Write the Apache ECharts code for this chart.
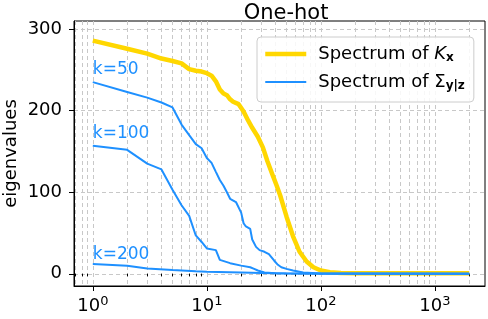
<!DOCTYPE html>
<html><head><meta charset="utf-8">
<script src="https://cdn.jsdelivr.net/npm/echarts@6/dist/echarts.min.js"></script>
<style>html,body{margin:0;padding:0;background:#fff}#c{width:488px;height:319px}</style>
</head><body><div id="c"></div>
<script>
const kxRanks = [1,2,3,4,5,6,7,8,9,10,11,12,13,14,15,16,17,19,21,23,25,28,31,34,38,41,44,50,57,65,75,86,100,120,150,200,500,1000,2000];
const kxValues = [286,276,270,264,261,258,251,249,248,246,243,236,226,221,219,214,211,208,199,188,179,168,155,138,120,108,96,70,46,27,15,8,4,2,1,0.5,0.5,0.5,0.5];
const k50Ranks = [1,2,3,4,5,6,7,8,9,10,11,12,13,14,15,16,18,20,21,22,24,25,27,29,32,35,39,42,45,50,57,70,100,2000];
const k50Values = [235,223,216,210,204,183,170,159,154,142,136,125,115,108,100,92,88,75,62,58,55,42,33,29,27,24,16,11,8,6,4,1.5,0.3,0];
const k100Ranks = [1,2,3,4,5,6,7,8,9,10,12,13,16,20,24,26,28,32,40,2000];
const k100Values = [157,152,135,128,103,84,71,47,39,31,29,17,13,10,8,6,4,1.5,0.5,0];
const k200Ranks = [1,2,3,5,8,10,20,30,50,100,2000];
const k200Values = [12,9.8,6.5,4.5,3,2.5,1.5,0.8,0.3,0.1,0];
const xMajorTicks = [1,10,100,1000];
const xMinorTicks = [0.7,0.8,0.9,2,3,4,5,6,7,8,9,20,30,40,50,60,70,80,90,200,300,400,500,600,700,800,900,2000];
const yTicks = [0,100,200,300];
const kLabels = ['k=50','k=100','k=200'];

const FONT = 'DejaVu Sans';
const BLUE = '#1E90FF';
const YELLOW = '#FFD700';
const NAME_K = 'Kx';
const NAME_S = 'Syz';

function pairs(r, v, label, dist) {
  return r.map((x, i) => {
    const item = {value: [x, v[i]]};
    if (i === 0 && label) {
      item.label = {show: true, formatter: label, position: 'top', align: 'left',
        color: BLUE, fontSize: 17, fontFamily: FONT, distance: dist};
    }
    return item;
  });
}
const gridDash = {show: true, lineStyle: {color: '#c8c8c8', type: [4, 3], width: 1}};

const chart = echarts.init(document.getElementById('c'), null, {renderer: 'canvas'});
chart.setOption({
  animation: false,
  title: {text: 'One-hot', left: 281, top: -2, textAlign: 'center',
    textStyle: {fontFamily: FONT, fontSize: 21, fontWeight: 'normal', color: '#000'}},
  grid: {left: 74, right: 3, top: 21, bottom: 33, show: true, borderColor: '#000', borderWidth: 1,
    backgroundColor: 'transparent', containLabel: false, outerBoundsMode: 'none'},
  legend: {
    orient: 'vertical', left: 257, top: 37,
    padding: [8, 9, 10, 6], itemGap: 9, itemWidth: 41, itemHeight: 12,
    backgroundColor: 'rgba(255,255,255,0.85)', borderColor: '#cccccc', borderWidth: 1, borderRadius: 4,
    data: [
      {name: NAME_K, lineStyle: {width: 4.5, color: YELLOW}, itemStyle: {opacity: 0}},
      {name: NAME_S, lineStyle: {width: 2, color: BLUE}, itemStyle: {opacity: 0}}
    ],
    formatter: function (n) {
      return n === NAME_K ? '{t|Spectrum of }{i|K}{b|x}' : '{t|Spectrum of \u03A3}{b|y|z}';
    },
    textStyle: {
      padding: [0, 0, 0, 7],
      rich: {
        t: {fontFamily: FONT, fontSize: 18, color: '#000', lineHeight: 20},
        i: {fontFamily: FONT, fontSize: 18, color: '#000', fontStyle: 'italic', lineHeight: 20},
        b: {fontFamily: FONT, fontSize: 12, color: '#000', fontWeight: 'bold', verticalAlign: 'bottom', lineHeight: 20}
      }
    }
  },
  xAxis: [{
    type: 'log', logBase: 10, min: 0.684, max: 2750,
    axisLine: {show: true, onZero: false, lineStyle: {color: '#000', width: 1}},
    axisTick: {show: true, length: 5, customValues: xMajorTicks, lineStyle: {color: '#000'}},
    axisLabel: {show: true, customValues: xMajorTicks, margin: 9, color: '#000',
      formatter: v => '{b|10}{s|' + Math.round(Math.log10(v)) + '}',
      rich: {
        b: {fontFamily: FONT, fontSize: 18, color: '#000', lineHeight: 22},
        s: {fontFamily: FONT, fontSize: 13, color: '#000', lineHeight: 18, verticalAlign: 'top'}
      }},
    splitLine: gridDash, minorTick: {show: false}, minorSplitLine: {show: false}
  }, {
    type: 'log', logBase: 10, min: 0.684, max: 2750, position: 'bottom',
    axisLine: {show: false},
    axisTick: {show: true, length: 2.5, customValues: xMinorTicks, lineStyle: {color: '#000'}},
    axisLabel: {show: false},
    splitLine: gridDash
  }],
  yAxis: {
    type: 'value', min: -15, max: 310,
    name: 'eigenvalues', nameLocation: 'middle', nameGap: 54, nameRotate: 90, nameMoveOverlap: false,
    nameTextStyle: {fontFamily: FONT, fontSize: 18, color: '#000'},
    axisLine: {show: true, onZero: false, lineStyle: {color: '#000', width: 1}},
    axisTick: {show: true, length: 5, customValues: yTicks, lineStyle: {color: '#000'}},
    axisLabel: {customValues: yTicks, margin: 12, color: '#000', fontFamily: FONT, fontSize: 18},
    splitLine: gridDash
  },
  series: [
    {name: NAME_K, type: 'line', xAxisIndex: 0, data: pairs(kxRanks, kxValues), showSymbol: false, symbol: 'none',
      lineStyle: {color: YELLOW, width: 4.5}, itemStyle: {color: YELLOW}, z: 2},
    {name: NAME_S, type: 'line', xAxisIndex: 0, data: pairs(k50Ranks, k50Values, kLabels[0], 4), symbol: 'circle', symbolSize: 0.1, showSymbol: true,
      lineStyle: {color: BLUE, width: 2}, itemStyle: {color: BLUE}, z: 3},
    {name: NAME_S, type: 'line', xAxisIndex: 0, data: pairs(k100Ranks, k100Values, kLabels[1], 4), symbol: 'circle', symbolSize: 0.1, showSymbol: true,
      lineStyle: {color: BLUE, width: 2}, itemStyle: {color: BLUE}, z: 3},
    {name: NAME_S, type: 'line', xAxisIndex: 0, data: pairs(k200Ranks, k200Values, kLabels[2], 1), symbol: 'circle', symbolSize: 0.1, showSymbol: true,
      lineStyle: {color: BLUE, width: 2}, itemStyle: {color: BLUE}, z: 3}
  ]
});
</script></body></html>
